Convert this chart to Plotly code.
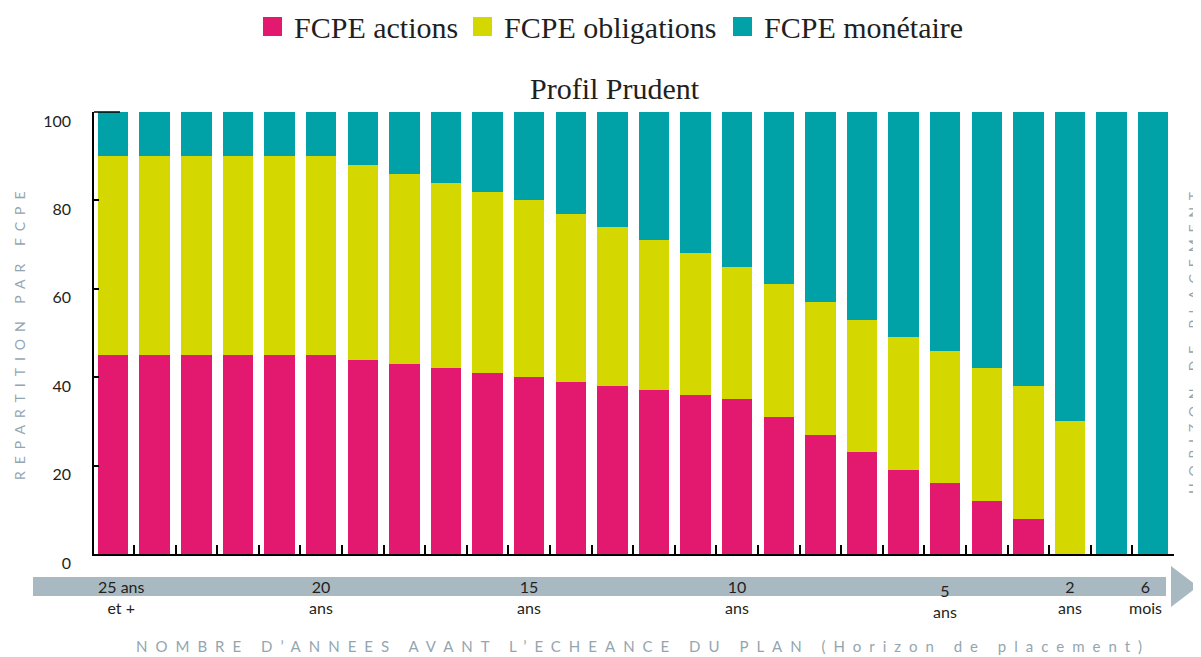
import plotly.graph_objects as go

# ---------------- data ----------------
categories = ["25 ans et +"] + [f"{n} ans" for n in range(24, 1, -1)] + ["1 an", "6 mois"]
actions = [45, 45, 45, 45, 45, 45, 44, 43, 42, 41, 40, 39, 38, 37, 36, 35, 31, 27, 23, 19, 16, 12, 8, 0, 0, 0]
obligations = [45, 45, 45, 45, 45, 45, 44, 43, 42, 41, 40, 38, 36, 34, 32, 30, 30, 30, 30, 30, 30, 30, 30, 30, 0, 0]
monetaire = [10, 10, 10, 10, 10, 10, 12, 14, 16, 18, 20, 23, 26, 29, 32, 35, 39, 43, 47, 51, 54, 58, 62, 70, 100, 100]

series_names = ["FCPE actions", "FCPE obligations", "FCPE monétaire"]
series_colors = ["#E3196F", "#D5D800", "#00A1A7"]

y_ticks = [0, 20, 40, 60, 80, 100]

horizon_cats = ["25 ans et +", "20 ans", "15 ans", "10 ans", "5 ans", "2 ans", "6 mois"]
horizon_top = ["25 ans", "20", "15", "10", "5", "2", "6"]
horizon_bottom = ["et +", "ans", "ans", "ans", "ans", "ans", "mois"]

title_text = "Profil Prudent"
y_title = "REPARTITION PAR FCPE"
right_title = "HORIZON DE PLACEMENT"
x_title = "NOMBRE D\u2019ANNEES AVANT L\u2019ECHEANCE DU PLAN (Horizon de placement)"

# ---------------- layout helpers (page pixel targets) ----------------
OFF = 8  # page body margin
W, H = 1201 - OFF, 657 - OFF
L, R, T, B = 94, 1174, 112, 554  # plot area, page pixels


def px(x):
    return (x - L) / (R - L)


def py(y):
    return (B - y) / (B - T)


GREY = "#93A6B0"
BAND = "#A8B9C1"
TEXT = "#231F20"
SANS = "Lato, 'Open Sans', sans-serif"
SERIF = "'Liberation Serif', 'DejaVu Serif', serif"

fig = go.Figure()
for name, vals, col in zip(series_names, [actions, obligations, monetaire], series_colors):
    fig.add_trace(go.Bar(x=categories, y=vals, name=name, marker=dict(color=col, line=dict(width=0)),
                         showlegend=False))

fig.update_layout(
    width=W, height=H,
    barmode="stack", bargap=0.267,
    margin=dict(l=L - OFF, r=1201 - R, t=T - OFF, b=657 - B),
    paper_bgcolor="white", plot_bgcolor="white",
    font=dict(family=SANS, color=TEXT),
)
fig.update_xaxes(type="category", categoryorder="array", categoryarray=categories,
                 range=[-0.46, 25.5], showline=True, linecolor="black", linewidth=1.5,
                 ticks="inside", tickson="boundaries", ticklen=9, tickcolor="black", tickwidth=1.5,
                 showticklabels=False, showgrid=False, zeroline=False)
fig.update_yaxes(range=[0, 100], tickvals=y_ticks, showline=True, linecolor="black", linewidth=1.5,
                 ticks="inside", ticklen=5, tickcolor="black", tickwidth=1.5,
                 showgrid=False, zeroline=False,
                 tickfont=dict(family=SANS, size=16, color=TEXT),
                 ticklabelstandoff=18, ticklabelshift=9)

shapes = []
# top extension of y axis at 100
shapes.append(dict(type="line", xref="paper", yref="paper", x0=0, x1=px(120), y0=1, y1=1,
                   line=dict(color="black", width=1.5)))
# bottom arrow band
shapes.append(dict(type="rect", xref="paper", yref="paper", x0=px(33), x1=px(1166), y0=py(577), y1=py(596),
                   fillcolor=BAND, line=dict(width=0), layer="below"))
shapes.append(dict(type="path", xref="paper", yref="paper",
                   path=f"M {px(1171)},{py(566)} L {px(1198)},{py(586.5)} L {px(1171)},{py(607)} Z",
                   fillcolor=BAND, line=dict(width=0)))

annotations = []
# custom legend
leg_sq_x = [263, 473, 733]
leg_tx_x = [292, 502, 762]
for name, col, sx, tx in zip(series_names, series_colors, leg_sq_x, leg_tx_x):
    shapes.append(dict(type="rect", xref="paper", yref="paper", x0=px(sx), x1=px(sx + 19),
                       y0=py(36), y1=py(17), fillcolor=col, line=dict(width=0)))
    annotations.append(dict(text=name, xref="paper", yref="paper", x=px(tx), y=py(27),
                            xanchor="left", yanchor="middle", showarrow=False,
                            font=dict(family=SERIF, size=30, color=TEXT)))
# chart title
annotations.append(dict(text=title_text, xref="paper", yref="paper", x=px(615), y=py(89),
                        xanchor="center", yanchor="middle", showarrow=False,
                        font=dict(family=SERIF, size=30, color=TEXT)))
# horizon labels under the axis
for cat, top, bot in zip(horizon_cats, horizon_top, horizon_bottom):
    xs = 8 if cat == "25 ans et +" else (-8 if cat == "6 mois" else 0)
    ys = -4 if cat == "5 ans" else 0
    annotations.append(dict(text=f"{top}<br>{bot}", x=cat, xref="x", yref="paper", y=py(597),
                            xanchor="center", yanchor="middle", showarrow=False, xshift=xs, yshift=ys,
                            font=dict(family=SANS, size=16, color=TEXT)))
# spaced axis titles
annotations.append(dict(text=f'<span style="letter-spacing:7px">{y_title}</span>',
                        xref="paper", yref="paper", x=px(19), y=py(332), textangle=-90,
                        xanchor="center", yanchor="middle", showarrow=False,
                        font=dict(family=SANS, size=14, color=GREY)))
annotations.append(dict(text=f'<span style="letter-spacing:6.8px">{right_title}</span>',
                        xref="paper", yref="paper", x=px(1193), y=py(340), textangle=-90,
                        xanchor="center", yanchor="middle", showarrow=False,
                        font=dict(family=SANS, size=14, color=GREY)))
annotations.append(dict(text=f'<span style="letter-spacing:8px">{x_title}</span>',
                        xref="paper", yref="paper", x=px(643), y=py(646),
                        xanchor="center", yanchor="middle", showarrow=False,
                        font=dict(family=SANS, size=15, color=GREY)))

fig.update_layout(shapes=shapes, annotations=annotations)
fig.write_html("out.html")
